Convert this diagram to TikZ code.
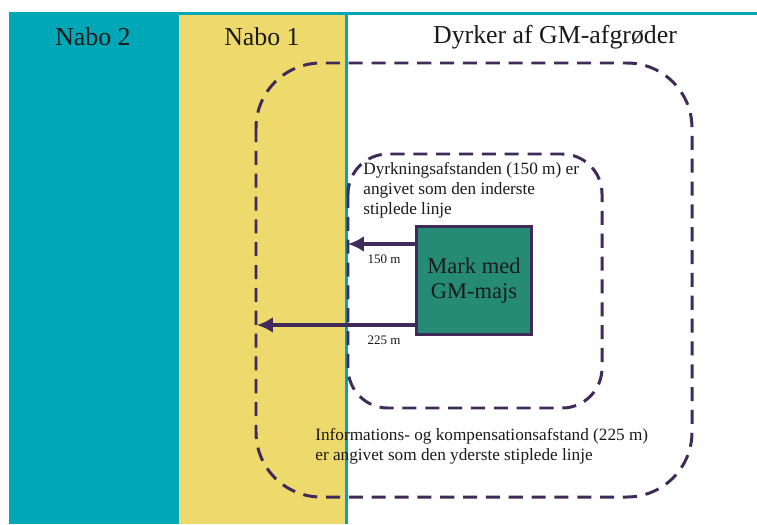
\documentclass[tikz,border=0pt]{standalone}
\usepackage{fontspec}
\setmainfont{Liberation Serif}
\usetikzlibrary{arrows.meta}
\definecolor{nabotyrkis}{HTML}{00A7B6}
\definecolor{naboguld}{HTML}{EDD96C}
\definecolor{lilla}{HTML}{3F2A58}
\definecolor{majsgroen}{HTML}{268B74}
\definecolor{tekst}{HTML}{1A1A1A}

\begin{document}
\begin{tikzpicture}[
x=0.02cm, y=-0.02cm,
overskrift/.style={text=tekst, font=\fontsize{14.7}{17}\selectfont},
forklaring/.style={text=tekst, font=\fontsize{9.8}{11.4}\selectfont, align=left, inner sep=0pt},
afstand/.style={text=tekst, font=\fontsize{7.4}{9}\selectfont, inner sep=0pt},
graense/.style={lilla, line width=1.7pt, dash pattern=on 8pt off 5pt},
pil/.style={lilla, line width=2.3pt, -{Latex[length=9pt,width=9pt]}},
markfelt/.style={rectangle, draw=lilla, line width=1.6pt, fill=majsgroen, text=tekst,
  minimum width=2.3cm, minimum height=2.16cm, align=center,
  font=\fontsize{12.8}{14.5}\selectfont}
]
\useasboundingbox (0,0) rectangle (757,524);
% the three fields
\fill[nabotyrkis] (9,12) rectangle (757,524);
\fill[white] (348,14.5) rectangle (757,524);
\fill[naboguld] (179,14.5) rectangle (345,524);

\node[overskrift] (nabo2) at (93,37) {Nabo 2};
\node[overskrift] (nabo1) at (262,37) {Nabo 1};
\node[overskrift] (dyrker) at (555,37) {Dyrker af GM-afgrøder};

% dashed distance lines
\draw[graense, rounded corners=1.3cm] (256,63) rectangle (692,497);
\draw[graense, rounded corners=0.8cm] (348,154) rectangle (602,408);

\node[markfelt] (mark) at (474,280.5) {Mark med\\GM-majs};

\coordinate (indre) at (348,244);
\coordinate (ydre) at (257,325);
\draw[pil] (mark.west |- indre) -- (indre);
\draw[pil] (mark.west |- ydre) -- (ydre);

\node[afstand] (a150) at (384,259) {150 m};
\node[afstand] (a225) at (384,340) {225 m};

\node[forklaring, anchor=north west] (indretekst) at (363,162)
  {Dyrkningsafstanden (150 m) er\\angivet som den inderste\\stiplede linje};
\node[forklaring, anchor=north west] (ydretekst) at (315,428)
  {Informations- og kompensationsafstand (225 m)\\er angivet som den yderste stiplede linje};
\end{tikzpicture}
\end{document}
